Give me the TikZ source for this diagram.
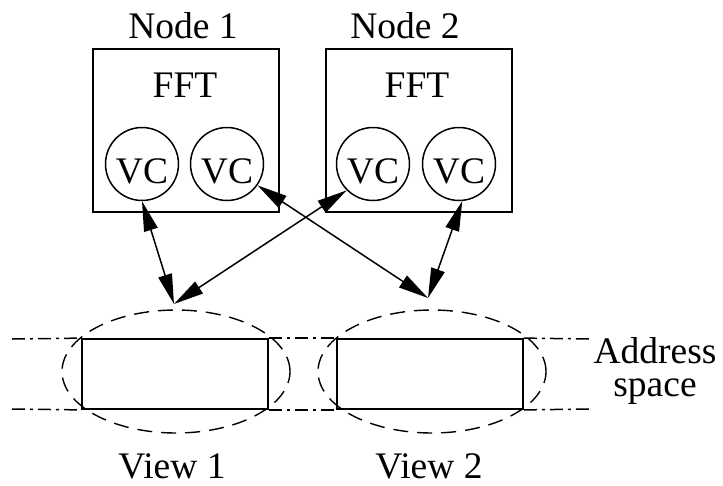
\documentclass[tikz,border=0pt]{standalone}
\usepackage{fontspec}
\setmainfont{Liberation Serif}
\usetikzlibrary{arrows.meta,shapes.geometric}
\begin{document}
\begin{tikzpicture}[x=1pt,y=-1pt,
  lbl/.style={font=\fontsize{37.5}{40}\selectfont, inner sep=0pt, anchor=base},
  nodebox/.style={draw, line width=1.8pt, minimum width=186pt, minimum height=163pt, inner sep=0pt},
  vcircle/.style={draw, circle, line width=1.5pt, minimum size=73pt, inner sep=0pt},
  viewbox/.style={draw, line width=1.8pt, minimum width=186pt, minimum height=70pt, inner sep=0pt},
  viewell/.style={draw, ellipse, dash pattern=on 15pt off 9pt, line width=1.4pt, minimum width=228pt, minimum height=123pt, inner sep=0pt},
  addr/.style={line width=1.5pt, dash pattern=on 13pt off 5pt on 3pt off 5pt},
  link/.style={line width=1.5pt, {Triangle[length=30pt,width=14pt]}-{Triangle[length=30pt,width=14pt]}}
]
\useasboundingbox (0,0) rectangle (723,485);
% node boxes
\node[nodebox] (n1) at (186,130.5) {};
\node[nodebox] (n2) at (419,130.5) {};
\node[lbl] (n1l) at (183,38) {Node 1};
\node[lbl] (n2l) at (405,38) {Node 2};
\node[lbl] (fft1) at (185,97) {FFT};
\node[lbl] (fft2) at (417,97) {FFT};
% VC circles
\node[vcircle] (vc1) at (142,164) {};
\node[vcircle] (vc2) at (227,164) {};
\node[vcircle] (vc3) at (373,164) {};
\node[vcircle] (vc4) at (459,164) {};
\node[lbl] (vc1t) at (142,183) {VC};
\node[lbl] (vc2t) at (227,183) {VC};
\node[lbl] (vc3t) at (373,183) {VC};
\node[lbl] (vc4t) at (459,183) {VC};
% views
\node[viewbox] (r1) at (175,374) {};
\node[viewbox] (r2) at (430,374) {};
\node[viewell] (e1) at (176,371.5) {};
\node[viewell] (e2) at (432,371.5) {};
\coordinate (t1) at (174,304);
\coordinate (t2) at (428,298);
% address space lines
\coordinate (la) at (12,339);
\coordinate (lb) at (12,409);
\coordinate (ra) at (592,339);
\coordinate (rb) at (592,409);
\draw[addr] (la) -- (r1.north west);
\draw[addr] (lb) -- (r1.south west);
\draw[addr] (r1.north east) -- (r2.north west);
\draw[addr] (r1.south east) -- (r2.south west);
\draw[addr] (r2.north east) -- (ra);
\draw[addr] (r2.south east) -- (rb);
\node[font=\fontsize{37.5}{33}\selectfont, inner sep=0pt, align=center, anchor=center] (as) at (655,371) {Address\\space};
\node[lbl] (v1l) at (172,478) {View 1};
\node[lbl] (v2l) at (429,478) {View 2};
% links
\draw[link] (vc1.south) -- (t1);
\draw[link] (vc3.-135) -- (t1);
\draw[link] (vc2.-35) -- (t2);
\draw[link] (vc4.-85) -- (t2);
\end{tikzpicture}
\end{document}
